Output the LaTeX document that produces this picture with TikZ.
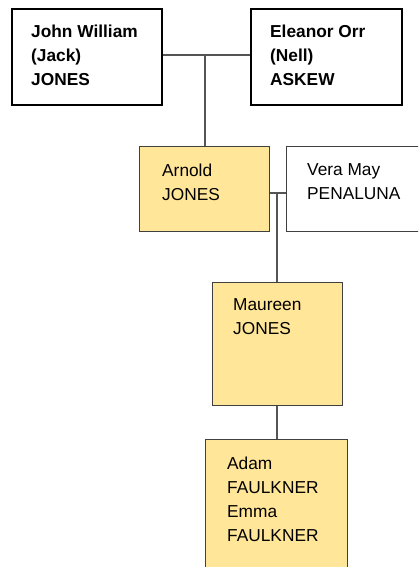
\documentclass[tikz,border=0pt]{standalone}
\usepackage{fontspec}
\setmainfont{Liberation Sans}
\definecolor{famyellow}{HTML}{FFE699}
\definecolor{linegray}{HTML}{555555}
\definecolor{boxgray}{HTML}{404040}
\tikzset{
  topbox/.style={draw=black, line width=2pt, fill=white, anchor=north west, inner sep=0pt},
  yelbox/.style={draw=boxgray, line width=1pt, fill=famyellow, anchor=north west, inner sep=0pt},
  whitebox/.style={draw=boxgray, line width=1pt, fill=white, anchor=north west, inner sep=0pt},
  conn/.style={draw=linegray, line width=1.2pt},
  txt/.style={anchor=west, align=left, inner sep=0pt, font=\fontsize{17.3}{24}\selectfont},
  btxt/.style={txt, font=\fontsize{17.3}{24}\selectfont\bfseries},
}
\begin{document}
\begin{tikzpicture}[x=1pt,y=-1pt]
\useasboundingbox (0,0) rectangle (418,567);
\clip (0,0) rectangle (418,567);
% boxes
\node[topbox, minimum width=150pt, minimum height=96pt] (john) at (11,8) {};
\node[topbox, minimum width=151pt, minimum height=96pt] (eleanor) at (250,8) {};
\node[yelbox, minimum width=130pt, minimum height=85pt] (arnold) at (139,146) {};
\node[whitebox, minimum width=200pt, minimum height=85pt] (vera) at (286,146) {};
\node[yelbox, minimum width=130pt, minimum height=123pt] (maureen) at (212,282) {};
\node[yelbox, minimum width=142pt, minimum height=180pt] (adam) at (205,439) {};
% connectors
\coordinate (m1) at (205,55);
\coordinate (m2) at (277,193);
\draw[conn] (john.east |- m1) -- (eleanor.west |- m1);
\draw[conn] (m1) -- (m1 |- arnold.north);
\draw[conn] (arnold.east |- m2) -- (vera.west |- m2);
\draw[conn] (m2) -- (m2 |- maureen.north);
\draw[conn] (m2 |- maureen.south) -- (m2 |- adam.north);
% texts
\node[btxt] (tjohn) at (31,55) {John William\\(Jack)\\JONES};
\node[btxt] (telev) at (270,55) {Eleanor Orr\\(Nell)\\ASKEW};
\node[txt] (tarn) at (162,182) {Arnold\\JONES};
\node[txt] (tvera) at (307,182) {Vera May\\PENALUNA};
\node[txt] (tmau) at (233,317) {Maureen\\JONES};
\node[txt] (tadam) at (227,499) {Adam\\FAULKNER\\Emma\\FAULKNER};
\end{tikzpicture}
\end{document}
